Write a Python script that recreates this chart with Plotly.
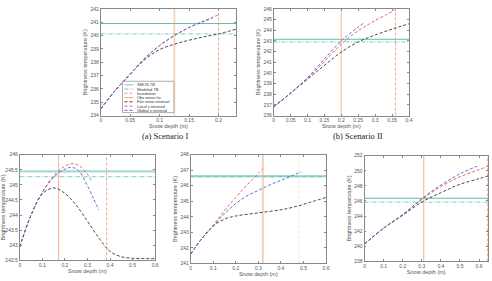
import plotly.graph_objects as go

# ---------------- data ----------------
# Panel (a) Scenario I
a_flat_x = [0, 0.025, 0.05, 0.075, 0.1, 0.125, 0.15, 0.175, 0.2, 0.23]
a_flat_y = [234.5, 235.9, 237.1, 238.2, 238.95, 239.35, 239.65, 239.9, 240.12, 240.48]
a_local_x = [0, 0.025, 0.05, 0.075, 0.1, 0.125, 0.15, 0.175, 0.2]
a_local_y = [234.5, 235.9, 237.1, 238.3, 239.25, 240.0, 240.6, 241.1, 241.55]
a_global_x = [0, 0.025, 0.05, 0.075, 0.1, 0.125, 0.15, 0.175, 0.19]
a_global_y = [234.5, 235.9, 237.1, 238.3, 239.25, 240.0, 240.6, 241.05, 241.3]
a_smos, a_model, a_obs, a_inund = 240.9, 240.12, 0.125, 0.2

# Panel (b) Scenario II
b_flat_x = [0, 0.05, 0.1, 0.15, 0.2, 0.25, 0.3, 0.35, 0.4]
b_flat_y = [236.8, 238.1, 239.4, 240.7, 241.95, 242.9, 243.55, 244.1, 244.6]
b_local_x = [0, 0.05, 0.1, 0.15, 0.2, 0.25, 0.3, 0.36]
b_local_y = [236.8, 238.1, 239.5, 241.05, 242.7, 243.95, 244.9, 245.9]
b_global_x = [0, 0.05, 0.1, 0.15, 0.2, 0.25, 0.27]
b_global_y = [236.8, 238.1, 239.55, 241.3, 243.0, 244.3, 244.75]
b_smos, b_model, b_obs, b_inund = 243.15, 242.9, 0.2, 0.36

# Panel (c)
c_flat_x = [0, 0.05, 0.1, 0.15, 0.2, 0.25, 0.3, 0.35, 0.4, 0.45, 0.5, 0.55, 0.6]
c_flat_y = [242.95, 244.0, 244.7, 244.9, 244.72, 244.33, 243.8, 243.25, 242.8, 242.62, 242.57, 242.56, 242.56]
c_local_x = [0, 0.05, 0.1, 0.15, 0.2, 0.23, 0.26, 0.3, 0.32]
c_local_y = [242.95, 244.0, 244.75, 245.3, 245.62, 245.7, 245.65, 245.35, 245.1]
c_global_x = [0, 0.05, 0.1, 0.15, 0.2, 0.23, 0.26, 0.3, 0.33, 0.35]
c_global_y = [242.95, 244.0, 244.75, 245.25, 245.52, 245.58, 245.48, 244.97, 244.5, 244.17]
c_smos, c_model, c_obs, c_inund = 245.45, 245.27, 0.172, 0.385

# Panel (d)
d_flat_x = [0, 0.05, 0.1, 0.15, 0.2, 0.3, 0.4, 0.45, 0.5, 0.6]
d_flat_y = [241.6, 242.6, 243.4, 243.85, 244.05, 244.25, 244.45, 244.6, 244.8, 245.25]
d_local_x = [0, 0.05, 0.1, 0.15, 0.2, 0.25, 0.3, 0.32]
d_local_y = [241.6, 242.6, 243.45, 244.4, 245.25, 246.05, 246.8, 247.1]
d_global_x = [0, 0.05, 0.1, 0.15, 0.2, 0.25, 0.3, 0.35, 0.4, 0.45, 0.49]
d_global_y = [241.6, 242.6, 243.4, 244.2, 244.85, 245.35, 245.7, 246.05, 246.35, 246.65, 246.9]
d_smos, d_model, d_obs, d_inund = 246.62, 246.58, 0.32, 0.48

# Panel (e)
e_flat_x = [0, 0.1, 0.2, 0.3, 0.4, 0.5, 0.6, 0.647]
e_flat_y = [240.3, 242.4, 244.1, 245.85, 247.1, 248.2, 248.95, 249.3]
e_local_x = [0, 0.1, 0.2, 0.3, 0.4, 0.5, 0.6, 0.647]
e_local_y = [240.3, 242.4, 244.2, 246.2, 247.9, 249.2, 250.15, 250.6]
e_global_x = [0, 0.1, 0.2, 0.3, 0.4, 0.5, 0.59]
e_global_y = [240.3, 242.4, 244.2, 246.3, 248.1, 249.6, 250.6]
e_smos, e_model, e_obs, e_inund = 246.36, 245.84, 0.31, 0.645

captions = ["(a) Scenario I", "(b) Scenario II"]
legend_labels = ["SMOS TB", "Modeled TB", "Inundation", "Obs mean hs",
                 "Flat snow retrieval", "Local s retrieval", "Global s retrieval"]

# ---------------- styling ----------------
W, H = 492, 281
C_SMOS = "#5cbdb3"
C_MODEL = "#5cbdb3"
C_OBS = "#f3a66b"
C_INUND = "#f08a45"
C_FLAT = "#333333"
C_LOCAL = "#e4505e"
C_GLOBAL = "#4b5fd6"
DASH = "3px,2px"
SANS = "Liberation Sans"

panels = [
    dict(xd=(100, 237), yd=(6, 115), xr=[0, 0.23], yr=[234, 242],
         xt=[0, 0.05, 0.1, 0.15, 0.2], yt=list(range(234, 243)),
         flat=(a_flat_x, a_flat_y), local=(a_local_x, a_local_y), glob=(a_global_x, a_global_y),
         smos=a_smos, model=a_model, obs=a_obs, inund=a_inund, sw=1.0, ow=2.0, oo=0.45),
    dict(xd=(275, 412), yd=(6, 115), xr=[0, 0.4], yr=[236, 246],
         xt=[0, 0.05, 0.1, 0.15, 0.2, 0.25, 0.3, 0.35, 0.4], yt=list(range(236, 247)),
         flat=(b_flat_x, b_flat_y), local=(b_local_x, b_local_y), glob=(b_global_x, b_global_y),
         smos=b_smos, model=b_model, obs=b_obs, inund=b_inund, sw=1.0, ow=1.5, oo=0.55),
    dict(xd=(18, 155), yd=(155, 263), xr=[0, 0.6], yr=[242.5, 246],
         xt=[0, 0.1, 0.2, 0.3, 0.4, 0.5, 0.6], yt=[242.5, 243, 243.5, 244, 244.5, 245, 245.5, 246],
         flat=(c_flat_x, c_flat_y), local=(c_local_x, c_local_y), glob=(c_global_x, c_global_y),
         smos=c_smos, model=c_model, obs=c_obs, inund=c_inund, sw=2.2, ow=1.2, oo=0.7),
    dict(xd=(191, 328), yd=(155, 266), xr=[0, 0.6], yr=[241, 248],
         xt=[0, 0.1, 0.2, 0.3, 0.4, 0.5, 0.6], yt=list(range(241, 249)),
         flat=(d_flat_x, d_flat_y), local=(d_local_x, d_local_y), glob=(d_global_x, d_global_y),
         smos=d_smos, model=d_model, obs=d_obs, inund=d_inund, sw=2.2, ow=2.0, oo=0.5),
    dict(xd=(367, 492), yd=(156, 264), xr=[0, 0.647], yr=[238, 252],
         xt=[0, 0.1, 0.2, 0.3, 0.4, 0.5, 0.6], yt=list(range(238, 253, 2)),
         flat=(e_flat_x, e_flat_y), local=(e_local_x, e_local_y), glob=(e_global_x, e_global_y),
         smos=e_smos, model=e_model, obs=e_obs, inund=e_inund, sw=1.0, ow=1.2, oo=0.7),
]

fig = go.Figure()
layout = dict(width=W, height=H, margin=dict(l=0, r=0, t=0, b=0),
              paper_bgcolor="white", plot_bgcolor="white", showlegend=False)

tickfont = dict(family=SANS, size=5, color="#555")
titlefont = dict(family=SANS, size=5.5, color="#555")

for i, p in enumerate(panels):
    n = "" if i == 0 else str(i + 1)
    xa, ya = "x" + n, "y" + n
    xd = [p["xd"][0] / W, p["xd"][1] / W]
    yd = [1 - p["yd"][1] / H, 1 - p["yd"][0] / H]
    layout["xaxis" + n] = dict(domain=xd, range=p["xr"], anchor=ya, tickvals=p["xt"],
                               ticktext=[("%g" % v) for v in p["xt"]],
                               showgrid=False, zeroline=False, showline=True, linecolor="#888",
                               linewidth=0.8, mirror="ticks", ticks="inside", ticklen=2,
                               tickcolor="#888", tickwidth=0.6, tickfont=tickfont,
                               title=dict(text="Snow depth (m)", font=titlefont, standoff=0))
    layout["yaxis" + n] = dict(domain=yd, range=p["yr"], anchor=xa, tickvals=p["yt"],
                               ticktext=[("%g" % v) for v in p["yt"]],
                               showgrid=False, zeroline=False, showline=True, linecolor="#888",
                               linewidth=0.8, mirror="ticks", ticks="inside", ticklen=2,
                               tickcolor="#888", tickwidth=0.6, tickfont=tickfont,
                               title=dict(text="Brightness temperature (K)", font=titlefont, standoff=2))
    x0, x1 = p["xr"]
    y0, y1 = p["yr"]
    fig.add_trace(go.Scatter(x=[x0, x1], y=[p["smos"], p["smos"]], mode="lines", xaxis=xa, yaxis=ya,
                             line=dict(color=C_SMOS, width=p["sw"]),
                             opacity=0.55 if p["sw"] > 1.5 else 1.0))
    fig.add_trace(go.Scatter(x=[x0, x1], y=[p["model"], p["model"]], mode="lines", xaxis=xa, yaxis=ya,
                             line=dict(color=C_MODEL, width=0.8, dash="4px,1.5px,1px,1.5px")))
    fig.add_trace(go.Scatter(x=[p["obs"], p["obs"]], y=[y0, y1], mode="lines", xaxis=xa, yaxis=ya,
                             line=dict(color=C_OBS, width=p["ow"]), opacity=p["oo"]))
    fig.add_trace(go.Scatter(x=[p["inund"], p["inund"]], y=[y0, y1], mode="lines", xaxis=xa, yaxis=ya,
                             line=dict(color=C_INUND, width=0.8, dash="3px,2px"),
                             opacity=0.35 if i == 3 else 0.9))
    for key, col in (("flat", C_FLAT), ("local", C_LOCAL), ("glob", C_GLOBAL)):
        xs, ys = p[key]
        fig.add_trace(go.Scatter(x=xs, y=ys, mode="lines", xaxis=xa, yaxis=ya,
                                 line=dict(color=col, width=0.9, dash=DASH, shape="spline", smoothing=1.0)))

# ---------------- legend (panel a) ----------------
shapes = []
annotations = []
lx0, ly0, lx1, ly1 = 122, 80, 174, 112
shapes.append(dict(type="rect", xref="paper", yref="paper",
                   x0=lx0 / W, x1=lx1 / W, y0=1 - ly1 / H, y1=1 - ly0 / H,
                   line=dict(color="#777", width=0.6), fillcolor="white", layer="above"))
styles = [
    (C_SMOS, "solid", 0.8), (C_MODEL, "4px,1.5px,1px,1.5px", 0.8), (C_INUND, "3px,2px", 0.8),
    (C_OBS, "solid", 1.0), (C_FLAT, DASH, 0.9), (C_LOCAL, DASH, 0.9), (C_GLOBAL, DASH, 0.9),
]
for k, (lab, (col, dsh, wd)) in enumerate(zip(legend_labels, styles)):
    yy = 1 - (83.6 + k * 4.35) / H
    shapes.append(dict(type="line", xref="paper", yref="paper", x0=124 / W, x1=133 / W,
                       y0=yy, y1=yy, line=dict(color=col, width=wd, dash=dsh), layer="above"))
    annotations.append(dict(x=134.5 / W, y=yy, xref="paper", yref="paper", text=lab,
                            showarrow=False, xanchor="left", yanchor="middle",
                            font=dict(family=SANS, size=4, color="#333")))

for cap, cx in zip(captions, (165, 360)):
    annotations.append(dict(x=cx / W, y=1 - 136 / H, xref="paper", yref="paper", text=cap,
                            showarrow=False, xanchor="center", yanchor="middle",
                            font=dict(family="Liberation Serif", size=8.5, color="#222")))

layout["shapes"] = shapes
layout["annotations"] = annotations
fig.update_layout(**layout)
fig.write_html("out.html")
